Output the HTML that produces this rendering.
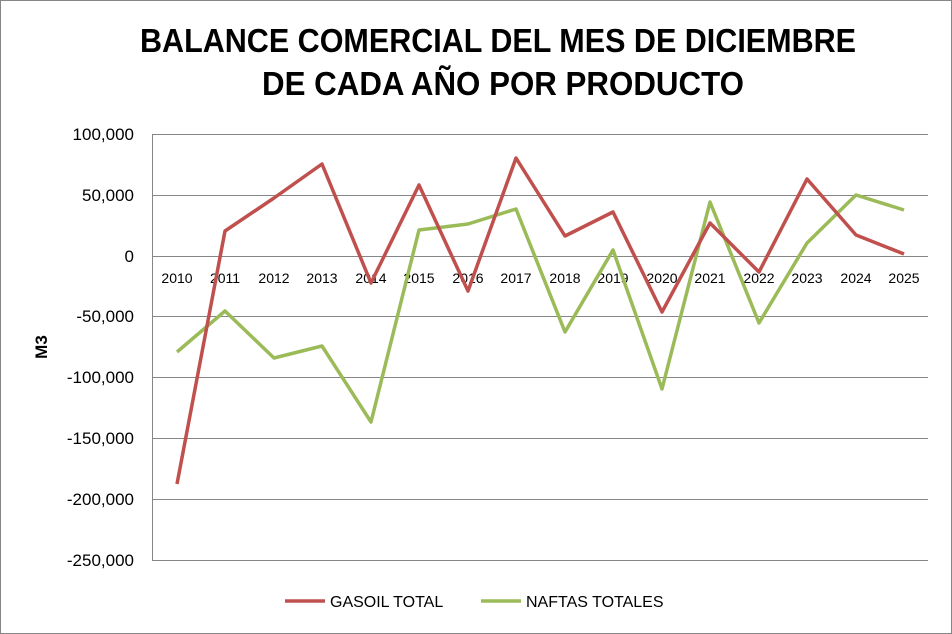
<!DOCTYPE html>
<html><head><meta charset="utf-8"><style>
html,body{margin:0;padding:0;background:#fff;}
svg{display:block;font-family:"Liberation Sans",Arial,sans-serif;}
</style></head><body>
<svg width="952" height="634" viewBox="0 0 952 634">
<rect x="0.5" y="0.5" width="951" height="633" fill="#fff" stroke="#868686"/>
<text x="140" y="52" font-size="33" font-weight="bold" textLength="716" lengthAdjust="spacingAndGlyphs">BALANCE COMERCIAL DEL MES DE DICIEMBRE</text>
<text x="262" y="95" font-size="33" font-weight="bold" textLength="482" lengthAdjust="spacingAndGlyphs">DE CADA AÑO POR PRODUCTO</text>
<g stroke="#868686" stroke-width="1">
<line x1="152" y1="134.5" x2="928" y2="134.5"/>
<line x1="152" y1="195.5" x2="928" y2="195.5"/>
<line x1="152" y1="256.5" x2="928" y2="256.5"/>
<line x1="152" y1="316.5" x2="928" y2="316.5"/>
<line x1="152" y1="377.5" x2="928" y2="377.5"/>
<line x1="152" y1="438.5" x2="928" y2="438.5"/>
<line x1="152" y1="499.5" x2="928" y2="499.5"/>
<line x1="152" y1="560.5" x2="928" y2="560.5"/>
<line x1="152.5" y1="134" x2="152.5" y2="560"/>
</g>
<g font-size="17" text-anchor="end">
<text x="134" y="140">100,000</text>
<text x="134" y="201">50,000</text>
<text x="134" y="262">0</text>
<text x="134" y="322">-50,000</text>
<text x="134" y="383">-100,000</text>
<text x="134" y="444">-150,000</text>
<text x="134" y="505">-200,000</text>
<text x="134" y="566">-250,000</text>
</g>
<text x="47" y="347" font-size="17" font-weight="bold" text-anchor="middle" transform="rotate(-90 47 347)">M3</text>
<g font-size="14" text-anchor="middle">
<text x="177" y="283">2010</text><text x="225" y="283">2011</text><text x="274" y="283">2012</text><text x="322" y="283">2013</text>
<text x="371" y="283">2014</text><text x="419" y="283">2015</text><text x="468" y="283">2016</text><text x="516" y="283">2017</text>
<text x="565" y="283">2018</text><text x="613" y="283">2019</text><text x="662" y="283">2020</text><text x="710" y="283">2021</text>
<text x="759" y="283">2022</text><text x="807" y="283">2023</text><text x="856" y="283">2024</text><text x="904" y="283">2025</text>
</g>
<polyline fill="none" stroke="#9BBB59" stroke-width="3.5" stroke-linejoin="round" points="177,352 225,311 274,358 322,346 371,422 419,230 468,224 516,209 565,332 613,250 662,389 710,202 759,323 807,243 856,195 904,210"/>
<polyline fill="none" stroke="#C0504D" stroke-width="3.5" stroke-linejoin="round" points="177,484 225,231 274,198 322,164 371,283 419,185 468,291 516,158 565,236 613,212 662,312 710,223 759,272 807,179 856,235 904,254"/>
<line x1="285" y1="601" x2="325" y2="601" stroke="#C0504D" stroke-width="3.5"/>
<text x="330" y="607" font-size="16">GASOIL TOTAL</text>
<line x1="481" y1="601" x2="521" y2="601" stroke="#9BBB59" stroke-width="3.5"/>
<text x="526" y="607" font-size="16">NAFTAS TOTALES</text>
</svg>
</body></html>
